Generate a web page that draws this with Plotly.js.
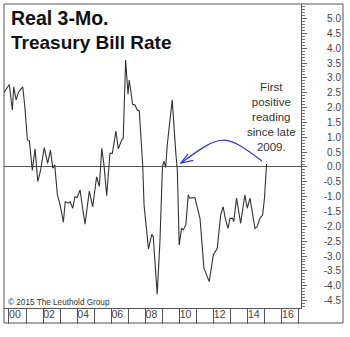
<!DOCTYPE html>
<html>
<head>
<meta charset="utf-8">
<script src="https://cdn.plot.ly/plotly-3.0.1.min.js"></script>
<style>html,body{margin:0;padding:0;background:#fff;}#chart{width:350px;height:337px;}</style>
</head>
<body>
<div id="chart"></div>
<script>
// Real 3-month Treasury bill rate (%), decimal years
var years = [1999.71, 2000.02, 2000.20, 2000.28, 2000.42, 2000.55, 2000.65, 2000.81, 2000.94, 2001.08,
  2001.20, 2001.37, 2001.53, 2001.69, 2001.86, 2002.07, 2002.27, 2002.43, 2002.57, 2002.68,
  2002.84, 2003.00, 2003.19, 2003.30, 2003.48, 2003.58, 2003.74, 2003.87, 2004.00, 2004.17,
  2004.32, 2004.46, 2004.71, 2004.91, 2005.14, 2005.30, 2005.44, 2005.57, 2005.73, 2005.92,
  2006.06, 2006.16, 2006.27, 2006.41, 2006.61, 2006.70, 2006.84, 2006.98, 2007.05, 2007.25,
  2007.39, 2007.52, 2007.64, 2007.84, 2007.92, 2008.18, 2008.37, 2008.46, 2008.69, 2008.85,
  2009.00, 2009.09, 2009.19, 2009.28, 2009.57, 2009.79, 2009.87, 2009.98, 2010.12, 2010.22,
  2010.37, 2010.51, 2010.61, 2010.90, 2011.20, 2011.43, 2011.59, 2011.74, 2011.98, 2012.21,
  2012.41, 2012.56, 2012.68, 2012.84, 2012.96, 2013.11, 2013.18, 2013.34, 2013.44, 2013.58,
  2013.83, 2013.97, 2014.13, 2014.24, 2014.42, 2014.55, 2014.71, 2014.87, 2014.98, 2015.10];
var realRate = [2.51, 2.78, 1.92, 2.70, 2.26, 2.51, 2.59, 2.70, 1.97, 0.91,
  0.88, -0.12, 0.61, -0.49, -0.10, 0.65, 0.12, 0.57, -0.04, 0.07,
  -0.94, -1.28, -1.86, -1.17, -1.22, -1.17, -1.39, -1.00, -1.03, -0.77,
  -1.39, -1.93, -0.81, -1.34, -0.33, -0.66, 0.63, 0.07, -0.97, 0.46,
  0.46, 0.85, 1.21, 0.61, 0.91, 0.97, 3.60, 2.45, 2.93, 2.11,
  2.09, 1.92, 1.89, 0.07, -1.28, -2.76, -2.27, -2.35, -4.29, -2.51,
  0.01, 0.20, -0.02, 0.74, 2.26, 0.40, -0.10, -2.63, -2.06, -2.12,
  -1.95, -0.94, -1.05, -1.03, -1.73, -3.41, -3.64, -3.86, -2.96, -2.74,
  -1.62, -1.34, -1.73, -2.07, -1.73, -1.73, -1.84, -1.05, -1.39, -1.90,
  -0.94, -1.39, -1.05, -1.45, -2.07, -2.01, -1.73, -1.62, -1.05, 0.10];

var yearTicks = [2000, 2001, 2002, 2003, 2004, 2005, 2006, 2007, 2008, 2009, 2010, 2011, 2012, 2013, 2014, 2015, 2016, 2017];
var yearLabels = ['00', '', '02', '', '04', '', '06', '', '08', '', '10', '', '12', '', '14', '', '16', ''];
var yTickVals = [5.0, 4.5, 4.0, 3.5, 3.0, 2.5, 2.0, 1.5, 1.0, 0.5, 0.0, -0.5, -1.0, -1.5, -2.0, -2.5, -3.0, -3.5, -4.0, -4.5];
var yTickText = ['5.0', '4.5', '4.0', '3.5', '3.0', '2.5', '2.0', '1.5', '1.0', '0.5', '0.0', '-0.5', '-1.0', '-1.5', '-2.0', '-2.5', '-3.0', '-3.5', '-4.0', '-4.5'];

var titleLines = ['Real 3-Mo.', 'Treasury Bill Rate'];
var noteText = 'First<br>positive<br>reading<br>since late<br>2009.';
var creditText = '\u00a9 2015 The Leuthold Group';

var xRange = [1999.71, 2017.12];
var yRange = [-4.75, 5.49];
var FONT = 'Liberation Sans, Arial, sans-serif';

var traces = [
  {x: years, y: realRate, type: 'scatter', mode: 'lines',
   line: {color: '#333', width: 1.1}, hoverinfo: 'skip', showlegend: false},
  {x: [2000], y: [null], yaxis: 'y2', type: 'scatter', mode: 'lines', hoverinfo: 'skip', showlegend: false}
];

var dom = [0, 297 / 339];
var layout = {
  width: 350, height: 337,
  margin: {l: 4, r: 7, t: 4, b: 29, pad: 0},
  paper_bgcolor: '#fff', plot_bgcolor: '#fff',
  font: {family: FONT, color: '#333'},
  showlegend: false,
  xaxis: {
    domain: dom, range: xRange, tickmode: 'array', tickvals: yearTicks, ticktext: yearLabels,
    ticks: 'outside', ticklen: 15, tickwidth: 1, tickcolor: '#555',
    showline: true, linecolor: '#555', linewidth: 1, showgrid: false, zeroline: false,
    tickfont: {family: FONT, size: 10.5, color: '#444'},
    ticklabelshift: 6, ticklabelstandoff: -19, fixedrange: true
  },
  yaxis: {
    side: 'right', range: yRange, tickmode: 'linear', tick0: 0, dtick: 0.5,
    ticks: 'outside', ticklen: 5, tickwidth: 1, tickcolor: '#666',
    minor: {dtick: 0.1, tick0: 0, ticks: 'outside', ticklen: 3, tickwidth: 1, tickcolor: '#777', showgrid: false},
    showticklabels: false, showline: true, linecolor: '#555', linewidth: 1,
    showgrid: false, zeroline: true, zerolinecolor: '#555', zerolinewidth: 1, fixedrange: true
  },
  yaxis2: {
    overlaying: 'y', side: 'left', anchor: 'free', position: 1, range: yRange,
    tickmode: 'array', tickvals: yTickVals, ticktext: yTickText, ticks: '',
    showline: false, showgrid: false, zeroline: false,
    tickfont: {family: FONT, size: 10, color: '#444'}, ticklabelstandoff: 2, fixedrange: true
  },
  shapes: [
    {type: 'rect', xref: 'paper', yref: 'paper', x0: 0, x1: 1, y0: -15 / 304, y1: 1,
     line: {color: '#555', width: 1}, fillcolor: 'rgba(0,0,0,0)', layer: 'above'},
    {type: 'path', xref: 'x', yref: 'y',
     path: 'M 2014.83,0.20 C 2012.60,1.18 2012.43,1.11 2010.08,0.135',
     line: {color: '#3434cc', width: 1.2}},
    {type: 'path', xref: 'x', yref: 'y',
     path: 'M 2010.49,0.44 L 2010.08,0.135 L 2010.81,0.22',
     line: {color: '#3434cc', width: 1.2}}
  ],
  annotations: [
    {text: '<b>' + titleLines[0] + '</b>', xref: 'paper', yref: 'paper', x: 0.0147, y: 0.954,
     xanchor: 'left', yanchor: 'middle', showarrow: false, font: {family: FONT, size: 19.5, color: '#111'}},
    {text: '<b>' + titleLines[1] + '</b>', xref: 'paper', yref: 'paper', x: 0.0147, y: 0.872,
     xanchor: 'left', yanchor: 'middle', showarrow: false, font: {family: FONT, size: 19, color: '#111'}},
    {text: noteText, xref: 'x', yref: 'y', x: 2015.41, y: 1.68, xanchor: 'center', yanchor: 'middle',
     showarrow: false, align: 'center', font: {family: FONT, size: 11.5, color: '#333'}},
    {text: creditText, xref: 'paper', yref: 'paper', x: 0.006, y: 0.0197, xanchor: 'left', yanchor: 'middle',
     showarrow: false, font: {family: FONT, size: 8.2, color: '#333'}}
  ]
};

Plotly.newPlot('chart', traces, layout, {staticPlot: true, displayModeBar: false});
</script>
</body>
</html>
